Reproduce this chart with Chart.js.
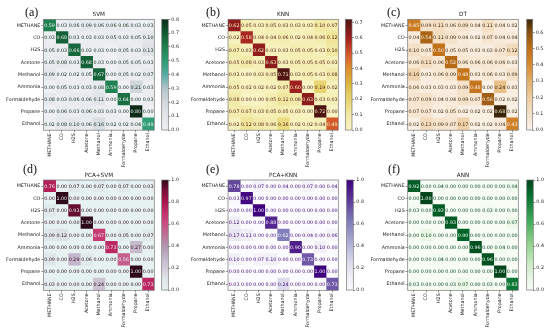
<!DOCTYPE html>
<html>
<head>
<meta charset="utf-8">
<script src="https://cdn.jsdelivr.net/npm/chart.js@4.4.1/dist/chart.umd.min.js"></script>
<style>
  html, body { margin: 0; padding: 0; background: #fff; }
  #wrap { position: relative; width: 550px; height: 335px; overflow: hidden; }
  #wrap canvas { position: absolute; }
  .tag { position: absolute; font-family: "Liberation Serif", "DejaVu Serif", serif; font-size: 12px; line-height: 12px; color: #111; }
</style>
</head>
<body>
<div id="wrap"></div>
<script>
// classes (rows = true, columns = predicted)
const gases = ["METHANE", "CO", "H2S", "Acetone", "Methanol", "Ammonia", "Formaldehyde", "Propane", "Ethanol"];

const svm = [
  [0.59, 0.03, 0.06, 0.09, 0.06, 0.06, 0.06, 0.03, 0.03],
  [0.03, 0.68, 0.03, 0.03, 0.03, 0.05, 0.03, 0.05, 0.10],
  [0.05, 0.03, 0.66, 0.03, 0.03, 0.00, 0.05, 0.03, 0.13],
  [0.05, 0.08, 0.03, 0.68, 0.03, 0.00, 0.05, 0.05, 0.03],
  [0.09, 0.02, 0.02, 0.05, 0.67, 0.00, 0.05, 0.02, 0.07],
  [0.00, 0.05, 0.03, 0.03, 0.08, 0.59, 0.00, 0.21, 0.03],
  [0.08, 0.03, 0.06, 0.06, 0.11, 0.00, 0.64, 0.00, 0.03],
  [0.00, 0.06, 0.03, 0.06, 0.03, 0.03, 0.00, 0.80, 0.00],
  [0.02, 0.08, 0.10, 0.06, 0.16, 0.02, 0.02, 0.04, 0.49]
];
const knn = [
  [0.62, 0.05, 0.03, 0.05, 0.03, 0.03, 0.03, 0.10, 0.07],
  [0.02, 0.58, 0.04, 0.04, 0.06, 0.02, 0.04, 0.06, 0.12],
  [0.07, 0.03, 0.62, 0.03, 0.03, 0.05, 0.05, 0.03, 0.10],
  [0.05, 0.08, 0.03, 0.63, 0.03, 0.05, 0.05, 0.05, 0.03],
  [0.03, 0.00, 0.03, 0.05, 0.71, 0.03, 0.05, 0.03, 0.08],
  [0.05, 0.02, 0.02, 0.02, 0.07, 0.60, 0.00, 0.19, 0.02],
  [0.08, 0.00, 0.00, 0.05, 0.11, 0.08, 0.63, 0.03, 0.03],
  [0.07, 0.07, 0.03, 0.05, 0.05, 0.03, 0.00, 0.72, 0.00],
  [0.02, 0.12, 0.08, 0.06, 0.16, 0.02, 0.02, 0.04, 0.49]
];
const dt = [
  [0.45, 0.09, 0.11, 0.06, 0.09, 0.04, 0.11, 0.04, 0.02],
  [0.04, 0.54, 0.11, 0.09, 0.04, 0.02, 0.07, 0.04, 0.04],
  [0.10, 0.05, 0.50, 0.05, 0.05, 0.03, 0.03, 0.07, 0.12],
  [0.06, 0.11, 0.06, 0.52, 0.06, 0.06, 0.06, 0.06, 0.03],
  [0.16, 0.03, 0.06, 0.09, 0.48, 0.03, 0.06, 0.03, 0.09],
  [0.06, 0.03, 0.03, 0.03, 0.09, 0.48, 0.00, 0.24, 0.03],
  [0.07, 0.09, 0.04, 0.04, 0.09, 0.07, 0.56, 0.02, 0.02],
  [0.07, 0.07, 0.02, 0.05, 0.02, 0.02, 0.02, 0.68, 0.02],
  [0.02, 0.13, 0.09, 0.07, 0.17, 0.02, 0.02, 0.04, 0.43]
];
const pcaSvm = [
  [0.76, 0.00, 0.07, 0.00, 0.07, 0.00, 0.07, 0.00, 0.03],
  [0.00, 1.00, 0.00, 0.00, 0.00, 0.00, 0.00, 0.00, 0.00],
  [0.07, 0.00, 0.93, 0.00, 0.00, 0.00, 0.00, 0.00, 0.00],
  [0.00, 0.00, 0.00, 1.00, 0.00, 0.00, 0.00, 0.00, 0.00],
  [0.09, 0.12, 0.00, 0.00, 0.67, 0.00, 0.05, 0.00, 0.07],
  [0.00, 0.00, 0.00, 0.00, 0.00, 0.73, 0.00, 0.27, 0.00],
  [0.09, 0.00, 0.29, 0.06, 0.00, 0.00, 0.56, 0.00, 0.00],
  [0.00, 0.00, 0.00, 0.00, 0.00, 0.00, 0.00, 1.00, 0.00],
  [0.03, 0.00, 0.00, 0.00, 0.24, 0.00, 0.00, 0.00, 0.73]
];
const pcaKnn = [
  [0.78, 0.00, 0.07, 0.00, 0.04, 0.00, 0.07, 0.00, 0.04],
  [0.03, 0.97, 0.00, 0.00, 0.00, 0.00, 0.00, 0.00, 0.00],
  [0.00, 0.00, 1.00, 0.00, 0.00, 0.00, 0.00, 0.00, 0.00],
  [0.12, 0.00, 0.00, 0.88, 0.00, 0.00, 0.00, 0.00, 0.00],
  [0.17, 0.11, 0.00, 0.00, 0.62, 0.00, 0.04, 0.00, 0.06],
  [0.00, 0.00, 0.00, 0.00, 0.00, 0.90, 0.00, 0.10, 0.00],
  [0.10, 0.00, 0.07, 0.10, 0.00, 0.00, 0.73, 0.00, 0.00],
  [0.00, 0.00, 0.00, 0.00, 0.00, 0.00, 0.00, 1.00, 0.00],
  [0.03, 0.00, 0.00, 0.00, 0.24, 0.00, 0.00, 0.00, 0.73]
];
const ann = [
  [0.92, 0.00, 0.04, 0.00, 0.00, 0.00, 0.00, 0.00, 0.04],
  [0.00, 1.00, 0.00, 0.00, 0.00, 0.00, 0.00, 0.00, 0.00],
  [0.03, 0.00, 0.93, 0.00, 0.00, 0.00, 0.03, 0.00, 0.00],
  [0.00, 0.00, 0.00, 0.93, 0.00, 0.00, 0.00, 0.00, 0.07],
  [0.00, 0.10, 0.00, 0.00, 0.90, 0.00, 0.00, 0.00, 0.00],
  [0.00, 0.00, 0.00, 0.00, 0.00, 0.96, 0.00, 0.04, 0.00],
  [0.00, 0.00, 0.04, 0.00, 0.00, 0.00, 0.96, 0.00, 0.00],
  [0.00, 0.00, 0.00, 0.00, 0.00, 0.00, 0.00, 1.00, 0.00],
  [0.03, 0.00, 0.00, 0.03, 0.07, 0.00, 0.03, 0.00, 0.83]
];

// colorbar tick labels
const ticksSvm = [0.0, 0.1, 0.2, 0.3, 0.4, 0.5, 0.6, 0.7, 0.8];
const ticksKnn = [0.0, 0.1, 0.2, 0.3, 0.4, 0.5, 0.6, 0.7];
const ticksDt = [0.0, 0.1, 0.2, 0.3, 0.4, 0.5, 0.6];
const ticksUnit = [0.0, 0.2, 0.4, 0.6, 0.8, 1.0];

// colour maps, position 0..1 -> colour
const cmapSvm = [[0, "#eef0f3"], [0.125, "#e3e6ea"], [0.25, "#d3d9de"], [0.375, "#b2c6cb"], [0.5, "#56aca3"], [0.625, "#2c9c70"], [0.75, "#1f7f4d"], [0.875, "#135a32"], [1, "#0c2b18"]];
const cmapKnn = [[0, "#f8f4c4"], [0.14, "#f1e8a2"], [0.28, "#e7d36c"], [0.42, "#dcb640"], [0.56, "#e08d2c"], [0.69, "#d3562a"], [0.83, "#a01f1f"], [1, "#4e1313"]];
const cmapDt = [[0, "#fbf3ea"], [0.147, "#f4e0c6"], [0.294, "#edcca0"], [0.44, "#e3b06a"], [0.59, "#d88a30"], [0.735, "#c07018"], [0.88, "#8a5210"], [1, "#3b2507"]];
const cmapPcaSvm = [[0, "#e6f2f1"], [0.1, "#dfe6e9"], [0.2, "#d2cdda"], [0.3, "#c1b3c8"], [0.4, "#b095b0"], [0.5, "#bd7197"], [0.6, "#ca4f86"], [0.7, "#c42f6a"], [0.8, "#aa174f"], [0.9, "#7c1039"], [1, "#2e0a18"]];
const cmapPurples = [[0, "#fcfbfd"], [0.125, "#efedf5"], [0.25, "#dadaeb"], [0.375, "#bcbddc"], [0.5, "#9e9ac8"], [0.625, "#807dba"], [0.75, "#6a51a3"], [0.875, "#54278f"], [1, "#3f007d"]];
const cmapGreens = [[0, "#f7fcf5"], [0.125, "#e5f5e0"], [0.25, "#c7e9c0"], [0.375, "#a1d99b"], [0.5, "#74c476"], [0.625, "#41ab5d"], [0.75, "#238b45"], [0.875, "#006d2c"], [1, "#00441b"]];

const FONT = "'DejaVu Sans', sans-serif";
Chart.defaults.font.family = FONT;

function hexToRgb(h) {
  return [parseInt(h.slice(1, 3), 16), parseInt(h.slice(3, 5), 16), parseInt(h.slice(5, 7), 16)];
}

function colorAt(cmap, t) {
  t = Math.max(0, Math.min(1, t));
  for (let k = 1; k < cmap.length; k++) {
    if (t <= cmap[k][0]) {
      const a = cmap[k - 1], b = cmap[k];
      const f = (t - a[0]) / (b[0] - a[0]);
      const ca = hexToRgb(a[1]), cb = hexToRgb(b[1]);
      const c = ca.map((v, i) => Math.round(v + (cb[i] - v) * f));
      return "rgb(" + c.join(",") + ")";
    }
  }
  return cmap[cmap.length - 1][1];
}

const wrap = document.getElementById("wrap");

function addCanvas(left, top, w, h) {
  const cv = document.createElement("canvas");
  cv.width = w;
  cv.height = h;
  cv.style.left = left + "px";
  cv.style.top = top + "px";
  cv.style.width = w + "px";
  cv.style.height = h + "px";
  wrap.appendChild(cv);
  return cv;
}

const frame = {
  id: "frame",
  afterDraw(chart) {
    const a = chart.chartArea;
    const ctx = chart.ctx;
    ctx.save();
    ctx.strokeStyle = "#777";
    ctx.lineWidth = 0.7;
    ctx.strokeRect(a.left, a.top, a.right - a.left, a.bottom - a.top);
    ctx.restore();
  }
};

function cellText(values, vmax, cmap) {
  const dark = cmap[cmap.length - 1][1];
  const light = cmap[0][1];
  return {
    id: "cellText",
    afterDatasetsDraw(chart) {
      const ctx = chart.ctx;
      ctx.save();
      ctx.font = "4.8px " + FONT;
      ctx.textAlign = "center";
      ctx.textBaseline = "middle";
      chart.data.datasets.forEach((ds, j) => {
        chart.getDatasetMeta(j).data.forEach((bar, i) => {
          const v = values[i][j];
          const c = bar.getCenterPoint();
          ctx.fillStyle = v < vmax / 2 ? dark : light;
          ctx.fillText(v.toFixed(2), c.x, c.y + 0.3);
        });
      });
      ctx.restore();
    }
  };
}

const tickFont = { family: FONT, size: 4.8 };

function matrixChart(p) {
  const cv = addCanvas(p.left, p.top, p.w, p.h);
  const vmax = Math.max(...p.values.flat());

  const datasets = gases.map((col, j) => ({
    label: col,
    data: gases.map(() => [j - 0.5, j + 0.5]),
    backgroundColor: gases.map((row, i) => colorAt(p.cmap, p.values[i][j] / vmax)),
    borderWidth: 0,
    barPercentage: 1,
    categoryPercentage: 1,
    grouped: false
  }));

  new Chart(cv, {
    type: "bar",
    data: { labels: gases, datasets: datasets },
    options: {
      indexAxis: "y",
      responsive: false,
      animation: false,
      layout: { padding: { left: 0, right: p.left + p.w - p.cr, top: 0, bottom: 0 } },
      plugins: {
        legend: { display: false },
        tooltip: { enabled: false },
        title: {
          display: true,
          text: p.title,
          fullSize: false,
          color: "#222",
          font: { family: FONT, size: 5.7, lineHeight: 1, weight: "normal" },
          padding: { top: p.ct - p.top - 4.3 - 2.85, bottom: 4.3 - 2.85 }
        }
      },
      scales: {
        y: {
          type: "category",
          offset: true,
          grid: { offset: false, drawOnChartArea: false, tickLength: 2, color: "#444", lineWidth: 0.6 },
          border: { display: false },
          ticks: { font: tickFont, color: "#222", padding: 1, autoSkip: false },
          afterFit: (s) => { s.width = p.cl - p.left; }
        },
        x: {
          type: "linear",
          min: -0.5,
          max: gases.length - 0.5,
          afterBuildTicks: (s) => { s.ticks = gases.map((g, i) => ({ value: i })); },
          grid: { drawOnChartArea: false, tickLength: 2, color: "#444", lineWidth: 0.6 },
          border: { display: false },
          ticks: {
            font: tickFont, color: "#222", padding: 1, autoSkip: false,
            maxRotation: 90, minRotation: 90,
            callback: (v) => gases[v]
          },
          afterFit: (s) => { s.height = p.top + p.h - p.cb; }
        }
      }
    },
    plugins: [cellText(p.values, vmax, p.cmap), frame]
  });

  // colour bar
  const cbH = p.cb - p.top + 10;
  const cb = addCanvas(p.cbLeft, p.top, p.cbW, cbH);
  new Chart(cb, {
    type: "bar",
    data: {
      labels: [""],
      datasets: [{
        data: [[0, vmax]],
        backgroundColor: (c) => {
          const area = c.chart.chartArea;
          if (!area) return p.cmap[0][1];
          const g = c.chart.ctx.createLinearGradient(0, area.bottom, 0, area.top);
          for (let k = 0; k <= 40; k++) g.addColorStop(k / 40, colorAt(p.cmap, k / 40));
          return g;
        },
        borderWidth: 0,
        barPercentage: 1,
        categoryPercentage: 1
      }]
    },
    options: {
      responsive: false,
      animation: false,
      layout: { padding: { left: p.cbx0 - p.cbLeft, right: 0, top: p.ct - p.top, bottom: p.top + cbH - p.cb } },
      plugins: { legend: { display: false }, tooltip: { enabled: false } },
      scales: {
        x: { display: false },
        y: {
          position: "right",
          min: 0,
          max: vmax,
          afterBuildTicks: (s) => { s.ticks = p.cbTicks.map((v) => ({ value: v })); },
          grid: { drawOnChartArea: false, tickLength: 2, color: "#444", lineWidth: 0.6 },
          border: { display: false },
          ticks: { font: tickFont, color: "#222", padding: 1, callback: (v) => v.toFixed(1) },
          afterFit: (s) => { s.width = p.cbLeft + p.cbW - p.cbx1; }
        }
      }
    },
    plugins: [frame]
  });

  const tag = document.createElement("div");
  tag.className = "tag";
  tag.textContent = p.tag;
  tag.style.left = p.tagX + "px";
  tag.style.top = p.tagY + "px";
  wrap.appendChild(tag);
}

const panels = [
  { tag: "(a)", title: "SVM", values: svm, cmap: cmapSvm, cbTicks: ticksSvm,
    left: 0, top: 0, w: 158, h: 172, cl: 43.3, cr: 154.3, ct: 19.3, cb: 130.2,
    cbLeft: 158, cbW: 30, cbx0: 161.7, cbx1: 168.3, tagX: 25, tagY: 5.7 },
  { tag: "(b)", title: "KNN", values: knn, cmap: cmapKnn, cbTicks: ticksKnn,
    left: 184, top: 0, w: 158, h: 172, cl: 228, cr: 338.3, ct: 19.3, cb: 130.2,
    cbLeft: 342, cbW: 28, cbx0: 345.3, cbx1: 352, tagX: 206, tagY: 5.7 },
  { tag: "(c)", title: "DT", values: dt, cmap: cmapDt, cbTicks: ticksDt,
    left: 364, top: 0, w: 158, h: 172, cl: 407.7, cr: 518.3, ct: 19.3, cb: 130.2,
    cbLeft: 523, cbW: 27, cbx0: 526.7, cbx1: 532.7, tagX: 387, tagY: 5.7 },
  { tag: "(d)", title: "PCA+SVM", values: pcaSvm, cmap: cmapPcaSvm, cbTicks: ticksUnit,
    left: 0, top: 160, w: 158, h: 175, cl: 43.3, cr: 154.3, ct: 180, cb: 290.3,
    cbLeft: 158, cbW: 30, cbx0: 161.7, cbx1: 168.3, tagX: 23, tagY: 163.3 },
  { tag: "(e)", title: "PCA+KNN", values: pcaKnn, cmap: cmapPurples, cbTicks: ticksUnit,
    left: 184, top: 160, w: 158, h: 175, cl: 228, cr: 338.3, ct: 180, cb: 290.3,
    cbLeft: 342, cbW: 28, cbx0: 346.5, cbx1: 353.3, tagX: 206, tagY: 163.3 },
  { tag: "(f)", title: "ANN", values: ann, cmap: cmapGreens, cbTicks: ticksUnit,
    left: 364, top: 160, w: 158, h: 175, cl: 407.7, cr: 518.3, ct: 180, cb: 290.3,
    cbLeft: 523, cbW: 27, cbx0: 526.7, cbx1: 533.3, tagX: 388, tagY: 163.3 }
];

panels.forEach(matrixChart);
</script>
</body>
</html>
